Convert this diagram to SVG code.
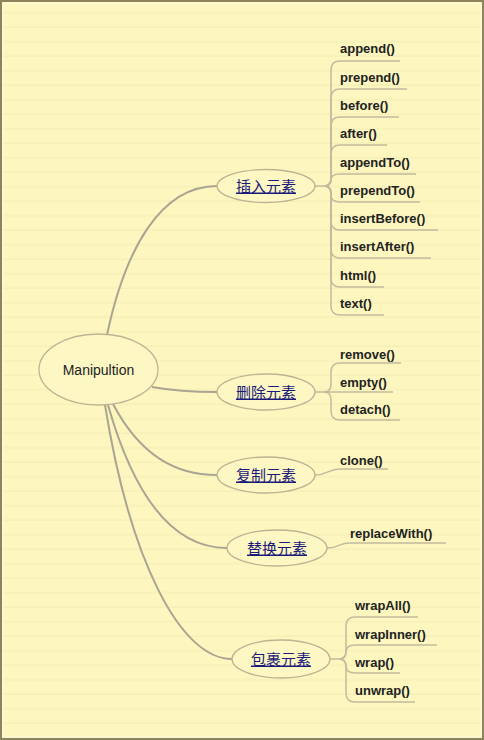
<svg xmlns="http://www.w3.org/2000/svg" width="484" height="740" viewBox="0 0 484 740">
<defs>
<pattern id="ruled" x="0" y="0" width="484" height="14.5" patternUnits="userSpaceOnUse">
<rect width="484" height="14.5" fill="#fdf7bf"/>
<rect y="12" width="484" height="1.5" fill="#f6efb8"/>
</pattern>
<style>
.root{fill:none;stroke:#a9a592;stroke-width:2}
.br{fill:none;stroke:#c2bb9e;stroke-width:1.5}
.ell{fill:#fdf7c4;stroke:#bcb493;stroke-width:1.3}
.main{font-family:"Liberation Sans","DejaVu Sans",sans-serif;font-size:14px;fill:#222}
.sub{font-family:"Liberation Sans","Noto Sans CJK SC",sans-serif;font-size:15px;fill:#1a1a7a;text-decoration:underline}
.leaf{font-family:"Liberation Sans","DejaVu Sans",sans-serif;font-size:13px;font-weight:bold;fill:#222}
</style>
</defs>
<rect width="484" height="740" fill="url(#ruled)"/>
<rect x="1" y="1" width="482" height="738" fill="none" stroke="#8c845a" stroke-width="2"/>
<rect x="3" y="3" width="478" height="734" fill="none" stroke="#fffbe0" stroke-width="1"/>

<g id="connectors">
<path class="root" d="M107,335 C125,250 160,186 217,186"/>
<path class="root" d="M152,387 C180,392 200,392 217,392"/>
<path class="root" d="M113,404 C140,455 175,475 217,475"/>
<path class="root" d="M108,405 C135,500 175,548 227,548"/>
<path class="root" d="M105,405 C130,560 180,659 232,659"/>

<path class="br" d="M315,186 H324 Q331,186 331,178 V70 Q331,61 340,61 H400"/>
<path class="br" d="M324,186 Q331,186 331,178 V98 Q331,89 340,89 H407"/>
<path class="br" d="M324,186 Q331,186 331,178 V126 Q331,117 340,117 H399"/>
<path class="br" d="M324,186 Q331,186 331,178 V154 Q331,145 340,145 H387"/>
<path class="br" d="M324,186 Q331,186 331,180 V180 Q331,174 340,174 H416"/>
<path class="br" d="M324,186 Q331,186 331,192 V195 Q331,202 340,202 H420"/>
<path class="br" d="M324,186 Q331,186 331,194 V221 Q331,230 340,230 H438"/>
<path class="br" d="M324,186 Q331,186 331,194 V249 Q331,258 340,258 H431"/>
<path class="br" d="M324,186 Q331,186 331,194 V278 Q331,287 340,287 H384"/>
<path class="br" d="M324,186 Q331,186 331,194 V306 Q331,315 340,315 H384"/>

<path class="br" d="M315,392 H324 Q331,392 331,384 V372 Q331,363 340,363 H401"/>
<path class="br" d="M324,392 H393"/>
<path class="br" d="M324,392 Q331,392 331,400 V411 Q331,420 340,420 H400"/>

<path class="br" d="M315,475 C328,475 328,469 340,469 H388"/>
<path class="br" d="M327,548 C340,548 338,543 350,543 H446"/>

<path class="br" d="M330,659 H339 Q346,659 346,651 V626 Q346,617 355,617 H418"/>
<path class="br" d="M339,659 Q346,659 346,652 V652 Q346,645 355,645 H437"/>
<path class="br" d="M339,659 Q346,659 346,666 V666 Q346,673 355,673 H400"/>
<path class="br" d="M339,659 Q346,659 346,667 V693 Q346,702 355,702 H415"/>
</g>

<g id="root"><ellipse class="ell" cx="98.5" cy="369.5" rx="59.5" ry="35.5"/><text class="main" x="98.5" y="374.5" text-anchor="middle">Manipultion</text></g>

<g id="insert"><ellipse class="ell" cx="266" cy="186" rx="49" ry="16.5"/><text class="sub" x="266" y="191.5" text-anchor="middle">插入元素</text></g>
<g id="delete"><ellipse class="ell" cx="266" cy="392" rx="49" ry="18"/><text class="sub" x="266" y="397.5" text-anchor="middle">删除元素</text></g>
<g id="copy"><ellipse class="ell" cx="266" cy="475" rx="49" ry="18"/><text class="sub" x="266" y="480.5" text-anchor="middle">复制元素</text></g>
<g id="replace"><ellipse class="ell" cx="277" cy="548" rx="50" ry="18"/><text class="sub" x="277" y="553.5" text-anchor="middle">替换元素</text></g>
<g id="wrapgroup"><ellipse class="ell" cx="281" cy="659" rx="49" ry="19"/><text class="sub" x="281" y="664.5" text-anchor="middle">包裹元素</text></g>

<g id="leaf-append"><text class="leaf" x="340" y="53">append()</text></g>
<g id="leaf-prepend"><text class="leaf" x="340" y="81.5">prepend()</text></g>
<g id="leaf-before"><text class="leaf" x="340" y="110">before()</text></g>
<g id="leaf-after"><text class="leaf" x="340" y="138">after()</text></g>
<g id="leaf-appendTo"><text class="leaf" x="340" y="166.5">appendTo()</text></g>
<g id="leaf-prependTo"><text class="leaf" x="340" y="195">prependTo()</text></g>
<g id="leaf-insertBefore"><text class="leaf" x="340" y="223">insertBefore()</text></g>
<g id="leaf-insertAfter"><text class="leaf" x="340" y="251">insertAfter()</text></g>
<g id="leaf-html"><text class="leaf" x="340" y="280">html()</text></g>
<g id="leaf-text"><text class="leaf" x="340" y="308">text()</text></g>

<g id="leaf-remove"><text class="leaf" x="340" y="358.5">remove()</text></g>
<g id="leaf-empty"><text class="leaf" x="340" y="386.5">empty()</text></g>
<g id="leaf-detach"><text class="leaf" x="340" y="414">detach()</text></g>

<g id="leaf-clone"><text class="leaf" x="340" y="464.5">clone()</text></g>
<g id="leaf-replaceWith"><text class="leaf" x="350" y="538">replaceWith()</text></g>

<g id="leaf-wrapAll"><text class="leaf" x="355" y="610">wrapAll()</text></g>
<g id="leaf-wrapInner"><text class="leaf" x="355" y="638.5">wrapInner()</text></g>
<g id="leaf-wrap"><text class="leaf" x="355" y="667">wrap()</text></g>
<g id="leaf-unwrap"><text class="leaf" x="355" y="695">unwrap()</text></g>
</svg>
